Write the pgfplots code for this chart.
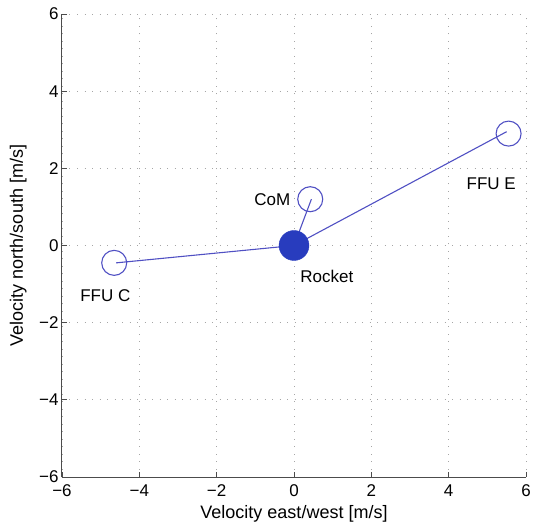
\documentclass[border=0pt]{standalone}
\usepackage{pgfplots}
\pgfplotsset{compat=1.18}
\usepackage{fontspec}
\setmainfont{Liberation Sans}
\definecolor{mblue}{RGB}{40,60,190}
\definecolor{lblue}{RGB}{80,80,195}
\begin{document}
\begin{tikzpicture}
\begin{axis}[
 scale only axis, width=464pt, height=463pt,
 axis lines*=left,
 xmin=-6,xmax=6,ymin=-6,ymax=6,
 xtick={-6,-4,-2,0,2,4,6}, ytick={-6,-4,-2,0,2,4,6},
 xticklabels={−6,−4,−2,0,2,4,6}, yticklabels={−6,−4,−2,0,2,4,6},
 grid=major, major grid style={dash pattern=on 1pt off 6.5pt, black!35, line width=0.8pt},
 tick align=inside, major tick length=5pt,
 axis line style={black!70, line width=1pt},
 tick style={black!70, line width=0.8pt},
 ticklabel style={font=\fontsize{17}{19}\selectfont},
 xticklabel style={yshift=-4pt},
 /pgf/number format/assume math mode=true,
 xlabel={Velocity east/west [m/s]}, ylabel={Velocity north/south [m/s]},
 label style={font=\fontsize{18}{20}\selectfont},
 xlabel style={at={([yshift=-41pt]axis description cs:0.5,0)}, anchor=base},
 ylabel style={at={([xshift=-39pt]axis description cs:0,0.5)}, anchor=base},
]
\addplot[lblue, line width=1.1pt] coordinates {(0,0) (5.5,2.95)};
\addplot[lblue, line width=1.1pt] coordinates {(0,0) (-4.6,-0.45)};
\addplot[lblue, line width=1.1pt] coordinates {(0,0) (0.45,1.2)};
\addplot[only marks, mark=o, mark size=12.5pt, lblue, mark options={line width=1.1pt}] coordinates {(5.55,2.9) (-4.65,-0.45) (0.42,1.2)};
\addplot[only marks, mark=*, mark size=15pt, mblue] coordinates {(0,0)};
\node[font=\fontsize{17}{19}\selectfont] at (axis cs:5.1,1.6) {FFU E};
\node[font=\fontsize{17}{19}\selectfont] at (axis cs:-4.88,-1.31) {FFU C};
\node[font=\fontsize{17}{19}\selectfont] at (axis cs:-0.56,1.19) {CoM};
\node[font=\fontsize{17}{19}\selectfont] at (axis cs:0.85,-0.81) {Rocket};
\end{axis}
\pgfresetboundingbox
\path ([shift={(-62pt,-52pt)}]current axis.south west) rectangle ([shift={(7pt,14pt)}]current axis.north east);
\end{tikzpicture}
\end{document}
